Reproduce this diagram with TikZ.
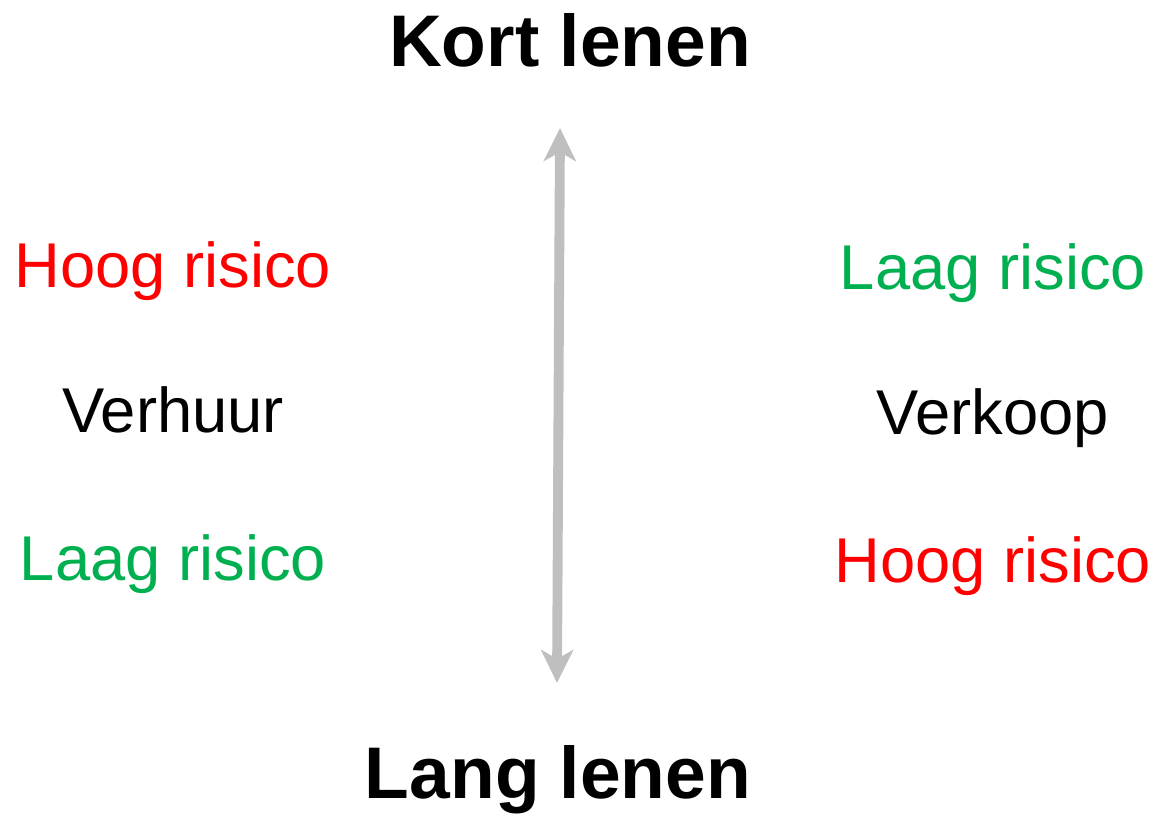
\documentclass[tikz,border=0pt]{standalone}
\usepackage{fontspec}
\setmainfont{Liberation Sans}
\usetikzlibrary{arrows.meta}
\definecolor{rood}{RGB}{255,0,0}
\definecolor{groen}{RGB}{0,176,80}
\definecolor{grijs}{RGB}{191,191,191}
\begin{document}
\begin{tikzpicture}[x=0.01cm,y=-0.01cm,
	kop/.style={font=\fontsize{20.8}{24}\selectfont\bfseries,anchor=base,inner sep=0pt},
	tekst/.style={font=\fontsize{18}{22}\selectfont,anchor=base,inner sep=0pt}]
	\useasboundingbox (0,0) rectangle (1157,815);
	\node[kop] (kort) at (570,67) {Kort lenen};
	\node[kop] (lang) at (558,798) {Lang lenen};
	\node[tekst,text=rood] (hoogL) at (173,287) {Hoog risico};
	\node[tekst] (verhuur) at (173,432) {Verhuur};
	\node[tekst,text=groen] (laagL) at (173,580) {Laag risico};
	\node[tekst,text=groen] (laagR) at (993,289) {Laag risico};
	\node[tekst] (verkoop) at (993,434) {Verkoop};
	\node[tekst,text=rood] (hoogR) at (993,582) {Hoog risico};
	\coordinate (boven) at (560,128);
	\coordinate (onder) at (557,683);
	\draw[grijs,line width=2.8pt,{Stealth[length=3.3mm,width=3.2mm,inset=0.9mm]}-{Stealth[length=3.3mm,width=3.2mm,inset=0.9mm]}] (boven) -- (onder);
\end{tikzpicture}
\end{document}
